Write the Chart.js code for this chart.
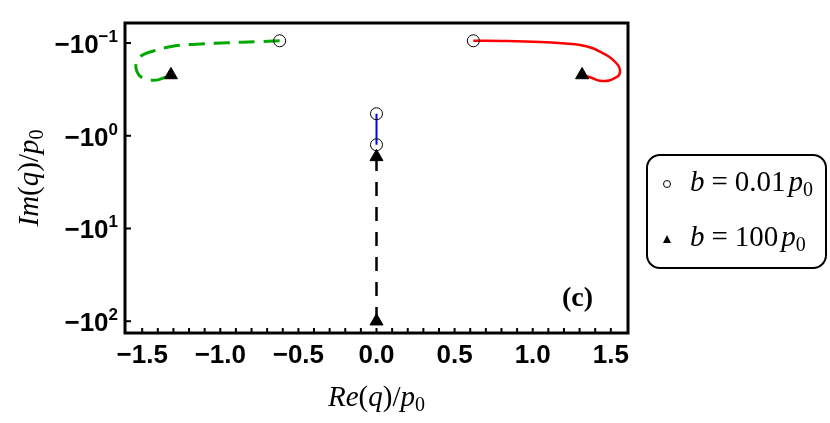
<!DOCTYPE html>
<html>
<head>
<meta charset="utf-8">
<script src="https://cdn.jsdelivr.net/npm/chart.js@4.4.0/dist/chart.umd.min.js"></script>
<style>
  body { margin: 0; background: #fff; }
  #wrap { width: 830px; height: 423px; }
</style>
</head>
<body>
<div id="wrap"><canvas id="grafico"></canvas></div>
<script>
// Re(q)/p0 and -Im(q)/p0 (log)
// b scan for the left branch (green, dashed)
let verdeX = [-0.620, -0.760, -0.952, -1.125, -1.297, -1.444, -1.508, -1.534, -1.540, -1.521, -1.482, -1.444, -1.393, -1.316];
let verdeY = [0.0945, 0.0968, 0.0993, 0.1025, 0.1077, 0.124, 0.138, 0.160, 0.186, 0.221, 0.244, 0.251, 0.248, 0.221];

// right branch (red)
let vermelhoX = [0.620, 0.835, 1.048, 1.208, 1.304, 1.380, 1.431, 1.482, 1.514, 1.546, 1.559, 1.553, 1.527, 1.489, 1.450, 1.412, 1.380, 1.316];
let vermelhoY = [0.0945, 0.0952, 0.0975, 0.1013, 0.105, 0.113, 0.124, 0.138, 0.152, 0.173, 0.196, 0.221, 0.238, 0.254, 0.257, 0.251, 0.238, 0.221];

// imaginary axis pieces
let azulX = [0, 0];
let azulY = [0.579, 1.25];
let pretoX = [0, 0];
let pretoY = [1.69, 100];

// end points: b = 0.01 p0 (circles) and b = 100 p0 (triangles)
let circulosX = [-0.620, 0.620, 0, 0];
let circulosY = [0.0945, 0.0945, 0.579, 1.25];
let triangulosX = [-1.316, 1.316, 0, 0];
let triangulosY = [0.221, 0.221, 1.69, 100];

// ticks
let ticksX = [-1.5, -1.0, -0.5, 0.0, 0.5, 1.0, 1.5];
let ticksY = [0.1, 1, 10, 100];
let expoentesY = ['\u22121', '0', '1', '2'];

function pontos(xs, ys) {
  return xs.map(function(x, i) { return { x: x, y: ys[i] }; });
}

function menos(v) {
  let s = v.toFixed(1);
  return v < -1e-9 ? '\u2212' + s.slice(1) : s;
}

// draws text made of several pieces with different fonts
function textoRico(ctx, partes, x, y, alinhar) {
  let total = 0;
  partes.forEach(function(p) {
    ctx.font = p.font;
    total += ctx.measureText(p.t).width + (p.gap || 0);
  });
  let cx = alinhar === 'right' ? x - total : (alinhar === 'center' ? x - total / 2 : x);
  partes.forEach(function(p) {
    ctx.font = p.font;
    ctx.fillText(p.t, cx, y + (p.dy || 0));
    cx += ctx.measureText(p.t).width + (p.gap || 0);
  });
}

const serifIt = 'italic 29px "Liberation Serif"';
const serif = '29px "Liberation Serif"';
const serifSub = '20px "Liberation Serif"';

const extras = {
  id: 'extras',
  afterDraw: function(chart) {
    const ctx = chart.ctx;
    const a = chart.chartArea;
    const sx = chart.scales.x, sy = chart.scales.y;
    ctx.save();
    ctx.fillStyle = '#000';
    ctx.strokeStyle = '#000';

    // frame
    ctx.lineWidth = 3;
    ctx.strokeRect(a.left, a.top, a.right - a.left, a.bottom - a.top);

    // inner ticks
    ctx.lineWidth = 2;
    for (let k = -16; k <= 16; k++) {
      let px = sx.getPixelForValue(k / 10);
      if (px < a.left + 2 || px > a.right - 2) continue;
      ctx.beginPath();
      ctx.moveTo(px, a.bottom);
      ctx.lineTo(px, a.bottom - 5);
      ctx.stroke();
    }
    ticksY.forEach(function(v, i) {
      let py = sy.getPixelForValue(v);
      ctx.beginPath();
      ctx.moveTo(a.left, py);
      ctx.lineTo(a.left + 6, py);
      ctx.stroke();
      ctx.textBaseline = 'alphabetic';
      textoRico(ctx, [
        { t: '\u221210', font: 'bold 26px "Liberation Sans"' },
        { t: expoentesY[i], font: 'bold 17px "Liberation Sans"', dy: -11 }
      ], a.left - 7, py + 10, 'right');
    });

    // axis titles
    ctx.textBaseline = 'alphabetic';
    textoRico(ctx, [
      { t: 'Re', font: serifIt }, { t: '(', font: serif }, { t: 'q', font: serifIt },
      { t: ')/', font: serif }, { t: 'p', font: serifIt }, { t: '0', font: serifSub, dy: 5 }
    ], (a.left + a.right) / 2, 406, 'center');

    ctx.save();
    ctx.translate(38, (a.top + a.bottom) / 2);
    ctx.rotate(-Math.PI / 2);
    textoRico(ctx, [
      { t: 'Im', font: serifIt }, { t: '(', font: serif }, { t: 'q', font: serifIt },
      { t: ')/', font: serif }, { t: 'p', font: serifIt }, { t: '0', font: serifSub, dy: 5 }
    ], 0, 0, 'center');
    ctx.restore();

    // panel label
    ctx.font = 'bold 28px "Liberation Serif"';
    ctx.textAlign = 'left';
    ctx.fillText('(c)', 562, 306);

    // legend
    ctx.lineWidth = 2;
    ctx.beginPath();
    ctx.roundRect(647, 155, 179, 113, 13);
    ctx.stroke();
    ctx.lineWidth = 1;
    ctx.beginPath();
    ctx.arc(667, 184, 3.5, 0, Math.PI * 2);
    ctx.stroke();
    ctx.beginPath();
    ctx.moveTo(667, 235);
    ctx.lineTo(671, 243);
    ctx.lineTo(663, 243);
    ctx.closePath();
    ctx.fill();
    textoRico(ctx, [
      { t: 'b', font: serifIt, gap: 7 }, { t: '=', font: serif, gap: 7 }, { t: '0.01', font: serif, gap: 3 },
      { t: 'p', font: serifIt }, { t: '0', font: serifSub, dy: 5 }
    ], 690, 191, 'left');
    textoRico(ctx, [
      { t: 'b', font: serifIt, gap: 7 }, { t: '=', font: serif, gap: 7 }, { t: '100', font: serif, gap: 3 },
      { t: 'p', font: serifIt }, { t: '0', font: serifSub, dy: 5 }
    ], 690, 246, 'left');

    ctx.restore();
  }
};

var ctx = document.getElementById('grafico').getContext('2d');
var chart = new Chart(ctx, {
  type: 'scatter',
  data: {
    datasets: [
      {
        label: 'b = 0.01 p0',
        data: pontos(circulosX, circulosY),
        pointStyle: 'circle',
        pointRadius: 6,
        pointBorderWidth: 1,
        pointBorderColor: '#000',
        pointBackgroundColor: 'rgba(0,0,0,0)',
        showLine: false
      },
      {
        label: 'b = 100 p0',
        data: pontos(triangulosX, triangulosY),
        pointStyle: 'triangle',
        pointRadius: 7.5,
        pointBorderWidth: 1,
        pointBorderColor: '#000',
        pointBackgroundColor: '#000',
        showLine: false
      },
      {
        label: 'verde',
        data: pontos(verdeX, verdeY),
        showLine: true,
        borderColor: '#00a800',
        borderWidth: 3,
        borderDash: [16, 9],
        tension: 0.4,
        pointRadius: 0
      },
      {
        label: 'vermelho',
        data: pontos(vermelhoX, vermelhoY),
        showLine: true,
        borderColor: '#ff0000',
        borderWidth: 2.5,
        tension: 0.4,
        pointRadius: 0
      },
      {
        label: 'azul',
        data: pontos(azulX, azulY),
        showLine: true,
        borderColor: '#0000ff',
        borderWidth: 2,
        pointRadius: 0
      },
      {
        label: 'preto',
        data: pontos(pretoX, pretoY),
        showLine: true,
        borderColor: '#000',
        borderWidth: 2.5,
        borderDash: [14, 11],
        pointRadius: 0
      }
    ]
  },
  options: {
    responsive: true,
    maintainAspectRatio: false,
    animation: { duration: 0 },
    layout: { padding: { left: 0, right: 202, top: 23, bottom: 0 } },
    plugins: { legend: { display: false }, tooltip: { enabled: false } },
    scales: {
      x: {
        type: 'linear',
        min: -1.61,
        max: 1.61,
        grid: { display: false, drawTicks: false },
        border: { display: false },
        afterBuildTicks: function(s) { s.ticks = ticksX.map(function(v) { return { value: v }; }); },
        afterFit: function(s) { s.height = 90; },
        ticks: {
          autoSkip: false,
          maxRotation: 0,
          padding: 7,
          color: '#000',
          font: { family: 'Liberation Sans', size: 26, weight: 'bold' },
          callback: function(v) { return menos(v); }
        }
      },
      y: {
        type: 'logarithmic',
        reverse: true,
        min: 0.0608,
        max: 134,
        grid: { display: false, drawTicks: false },
        border: { display: false },
        afterBuildTicks: function(s) { s.ticks = ticksY.map(function(v) { return { value: v }; }); },
        afterFit: function(s) { s.width = 125; },
        ticks: { display: false }
      }
    }
  },
  plugins: [extras]
});
</script>
</body>
</html>
